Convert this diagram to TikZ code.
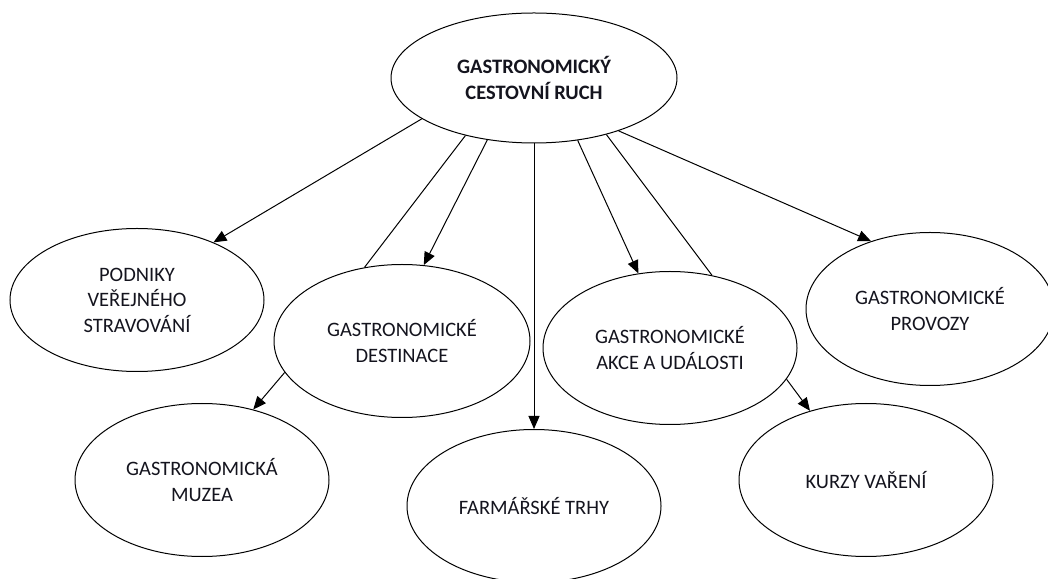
\documentclass[tikz,border=0pt]{standalone}
\usepackage{fontspec}
\setmainfont{Carlito}
\usetikzlibrary{arrows.meta, shapes.geometric}
\definecolor{linecol}{RGB}{0, 0, 0}
\definecolor{textcol}{RGB}{20, 20, 30}
\tikzset{
  bubble/.style = {draw=linecol, ellipse, line width=1pt, inner sep=0pt,
                   minimum width=254pt, minimum height=153pt, align=center,
                   text=textcol, font=\fontsize{20.5}{25.5}\selectfont},
  hub/.style    = {bubble, minimum width=286pt, minimum height=130pt,
                   font=\fontsize{20.5}{25.5}\selectfont\bfseries},
  flow/.style   = {-{Triangle[length=13pt, width=11pt]}, draw=linecol,
                   line width=1pt},
  tie/.style    = {draw=linecol, line width=1pt},
}

\begin{document}
\begin{tikzpicture}[x=1pt, y=1pt]
  \useasboundingbox (0,0) rectangle (1048,578);

  %% ---------------- the hub ----------------
  \node[hub] (hub) at (534,500) {GASTRONOMICKÝ\\CESTOVNÍ RUCH};

  %% ---------------- first ring ----------------
  \node[bubble, minimum height=143pt] (podniky) at (137,278)
       {PODNIKY\\VEŘEJNÉHO\\STRAVOVÁNÍ};
  \node[bubble, minimum width=256pt] (destinace) at (402,237)
       {GASTRONOMICKÉ\\DESTINACE};
  \node[bubble] (akce) at (670,230) {GASTRONOMICKÉ\\AKCE A UDÁLOSTI};
  \node[bubble, minimum width=248pt] (provozy) at (930,269)
       {GASTRONOMICKÉ\\PROVOZY};

  %% ---------------- second ring ----------------
  \node[bubble] (muzea) at (202,98) {GASTRONOMICKÁ\\MUZEA};
  \node[bubble] (trhy)  at (534,72) {FARMÁŘSKÉ TRHY};
  \node[bubble] (kurzy) at (866,98) {KURZY VAŘENÍ};

  %% ---------------- connectors ----------------
  \draw[flow] (hub.200) -- (podniky.37);
  \draw[tie]  (hub.220) -- (destinace.117);
  \draw[flow] (hub.233) -- (destinace.74);
  \draw[flow] (hub.south) -- (trhy.north);
  \draw[flow] (hub.305) -- (akce.113);
  \draw[tie]  (hub.322) -- (akce.60);
  \draw[flow] (hub.328) -- (provozy.131);
  \draw[flow] (destinace.195) -- (muzea.54);
  \draw[flow] (akce.345) -- (kurzy.129);

\end{tikzpicture}
\end{document}
